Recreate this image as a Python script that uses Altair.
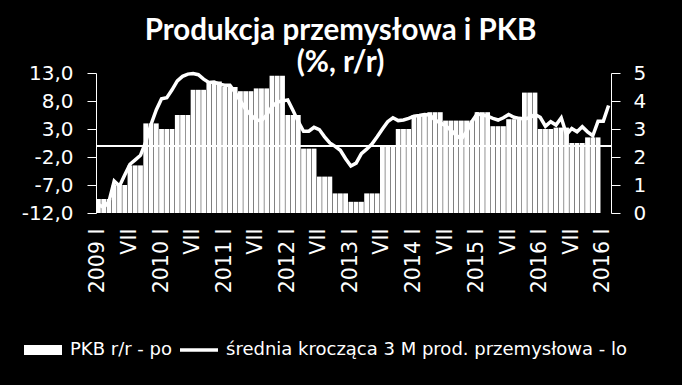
import altair as alt
import pandas as pd

# PKB r/r (quarterly, 2009 Q1 - 2016 Q4), right axis
gdp_quarterly = [0.5, 1.0, 1.7, 3.2,
                 3.0, 3.5, 4.4, 4.7,
                 4.5, 4.35, 4.45, 4.9,
                 3.5, 2.3, 1.3, 0.7,
                 0.4, 0.7, 2.4, 3.0,
                 3.5, 3.6, 3.3, 3.3,
                 3.6, 3.1, 3.35, 4.3,
                 3.0, 3.05, 2.5, 2.7]

# 3M moving average of industrial production (monthly, Jan 2009 - Feb 2017), left axis
ip_3m = [-10.5, -11.0, -10.0, -6.3, -7.2, -5.2, -3.3, -2.5, -1.7, 0.7, 3.8, 6.4,
         8.4, 8.6, 10.0, 11.6, 12.4, 12.8, 12.9, 12.7, 11.9, 11.3, 11.4, 11.0,
         10.8, 10.8, 9.5, 8.0, 6.5, 5.5, 4.6, 4.5, 5.5, 7.0, 7.8, 8.0,
         8.2, 6.3, 4.3, 2.6, 2.6, 3.3, 2.9, 1.6, 0.5, -0.1, -0.8, -2.3,
         -3.6, -3.1, -1.4, -0.6, 0.3, 1.6, 3.0, 4.3, 5.0, 4.5, 4.6, 4.9,
         5.3, 5.4, 5.6, 5.5, 4.6, 4.1, 3.6, 2.8, 1.9, 1.2, 2.5, 4.3,
         5.7, 5.5, 5.3, 4.9, 4.6, 5.0, 5.6, 5.1, 4.9, 4.8, 5.0, 5.6,
         5.1, 3.5, 4.3, 3.7, 5.0, 2.0, 3.1, 2.5, 3.4, 2.5, 1.8, 4.4,
         4.4, 7.2]

tick_labels = ["2009 I", "VII", "2010 I", "VII", "2011 I", "VII", "2012 I", "VII",
               "2013 I", "VII", "2014 I", "VII", "2015 I", "VII", "2016 I", "VII",
               "2016 I"]

left_ticks = [-12, -7, -2, 3, 8, 13]
right_ticks = [0, 1, 2, 3, 4, 5]

series_names = ["PKB r/r - po", "średnia krocząca 3 M prod. przemysłowa - lo"]

n = len(ip_3m)
gdp_monthly = [v for v in gdp_quarterly for _ in range(3)]
gdp_col = gdp_monthly + [None] * (n - len(gdp_monthly))
df = pd.DataFrame({"m": list(range(n)), "ip": ip_3m, "gdp": gdp_col})
legend_df = pd.DataFrame({"series": series_names})

label_array = "[" + ",".join("'" + t + "'" for t in tick_labels) + "]"

x_axis = alt.Axis(
    values=list(range(0, n, 6)),
    labelExpr=label_array + "[floor(datum.value / 6)]",
    labelAngle=-90,
    labelColor="white",
    labelFont="DejaVu Sans",
    labelFontSize=20.5,
    labelPadding=15,
    labelOverlap=False,
    ticks=False,
    domain=False,
    title=None,
    grid=False,
)
x_enc = alt.X("m:O", scale=alt.Scale(paddingInner=0.08, paddingOuter=0), axis=x_axis)

left_axis = alt.Axis(
    orient="left",
    values=left_ticks,
    labelExpr="(datum.value < 0 ? '-' : '') + abs(datum.value) + ',0'",
    title=None,
    grid=False,
    domainColor="white",
    tickColor="white",
    tickSize=9,
    labelColor="white",
    labelFont="DejaVu Sans",
    labelFontSize=20,
    labelPadding=14,
    labelOverlap=False,
    labelBound=False,
)
left_scale = alt.Scale(domain=[-12, 13], nice=False, zero=False)

bars = alt.Chart(df).transform_filter("isValid(datum.gdp)").mark_bar(color="white").encode(
    x=x_enc,
    y=alt.Y(
        "gdp:Q",
        scale=alt.Scale(domain=[0, 5], nice=False, zero=True),
        axis=alt.Axis(
            orient="right",
            values=right_ticks,
            format="d",
            title=None,
            grid=False,
            domainColor="white",
            tickColor="white",
            tickSize=9,
            labelColor="white",
            labelFont="DejaVu Sans",
            labelFontSize=20,
            labelPadding=13,
            labelOverlap=False,
        ),
    ),
)

line = alt.Chart(df).mark_line(color="white", strokeWidth=3.5).encode(
    x=x_enc,
    y=alt.Y("ip:Q", scale=left_scale, axis=left_axis),
)

zero_rule = alt.Chart(df).mark_rule(color="white", strokeWidth=1).encode(
    y=alt.Y(datum=0, scale=left_scale, axis=left_axis)
)

rect_path = "M-1,-0.263L1,-0.263L1,0.263L-1,0.263Z"
line_path = "M-1,-0.092L1,-0.092L1,0.092L-1,0.092Z"

legend_layer = alt.Chart(legend_df).transform_filter("false").mark_point(
    filled=True, color="white", opacity=1
).encode(
    shape=alt.Shape(
        "series:N",
        scale=alt.Scale(domain=series_names, range=[rect_path, line_path]),
        legend=alt.Legend(
            title=None,
            orient="none",
            legendX=-72,
            legendY=258,
            direction="horizontal",
            symbolSize=1444,
            symbolFillColor="white",
            symbolStrokeColor="white",
            symbolStrokeWidth=0,
            symbolOpacity=1,
            labelColor="white",
            labelFont="DejaVu Sans",
            labelFontSize=18,
            labelOffset=8,
            columnPadding=8,
            labelLimit=600,
        ),
    )
)

left = alt.layer(line, zero_rule, legend_layer)

chart = alt.layer(bars, left).resolve_scale(y="independent").properties(
    width=515,
    height=140,
    padding={"left": 96, "top": 73, "right": 71, "bottom": 172},
    autosize=alt.AutoSizeParams(type="none"),
    title=alt.TitleParams(
        text=["Produkcja przemysłowa i PKB", "(%, r/r)"],
        font="Lato",
        fontWeight="bold",
        fontSize=29.5,
        lineHeight=32,
        color="white",
        anchor="middle",
        frame="group",
        dx=-13,
        offset=-15,
    ),
).configure(background="black").configure_view(stroke=None).configure_axis(
    labelOverlap=False
)

chart.save("out.html", embed_options={"renderer": "svg", "actions": False})
